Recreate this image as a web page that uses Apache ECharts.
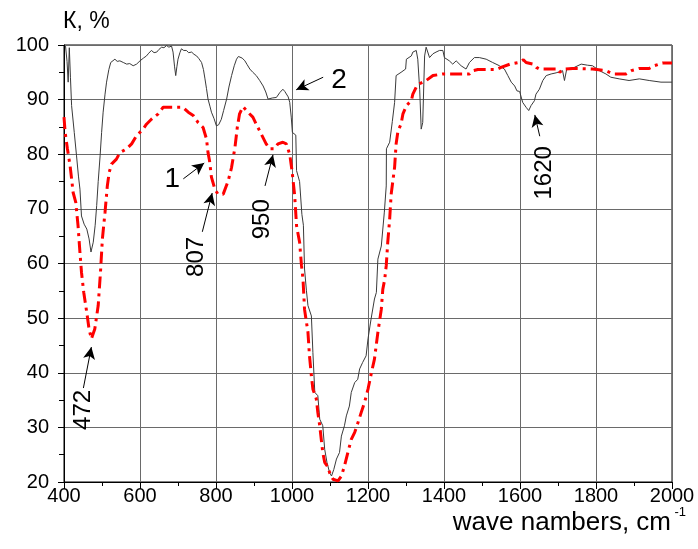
<!DOCTYPE html>
<html>
<head>
<meta charset="utf-8">
<script src="https://cdn.jsdelivr.net/npm/echarts@6/dist/echarts.min.js"></script>
<style>html,body{margin:0;padding:0;background:#fff;}#c{width:698px;height:549px;}</style>
</head>
<body>
<div id="c"></div>
<script>
// Curve 2 (thin gray)
const wn2 = [404,408,411,414,417,420,427,433,438,442,446,453,460,466,471,477,482,486,490,495,499,503,508,512,518,523,534,540,547,556,565,573,582,591,600,609,617,623,630,637,644,650,657,663,670,676,683,687,691,694,697,700,705,709,715,722,728,736,742,749,755,762,767,771,775,779,784,788,795,801,807,814,820,828,834,841,848,854,859,863,869,876,882,889,897,906,915,924,931,937,948,959,968,976,981,985,990,994,998,1001,1010,1012,1020,1026,1030,1033,1038,1042,1051,1055,1060,1068,1073,1081,1086,1092,1099,1104,1110,1117,1125,1130,1138,1143,1151,1156,1165,1173,1178,1186,1195,1200,1208,1217,1222,1226,1235,1243,1248,1248.5,1257,1264,1270,1274,1287,1299,1301,1314,1318,1327,1331,1336,1340,1344,1349,1353,1358,1362,1371,1379,1388,1397,1401,1414,1423,1432,1445,1458,1467,1480,1493,1511,1528,1546,1559,1568,1577,1586,1592,1599,1607,1616,1623,1629,1638,1642,1651,1660,1669,1682,1695,1712,1716,1717,1722,1723,1743,1761,1778,1791,1809,1826,1839,1861,1887,1914,1940,1971,2000];
const k2 = [99.8,97,93.2,99.5,94,88.9,84,79.7,76,73.6,68.7,67.2,66.3,64.5,62.1,63.9,67,70.6,75,79.7,84,87.7,91,93.2,95.5,96.8,97.4,97,97.1,96.8,96.5,96.6,96.2,96.5,97.1,97.6,98.0,98.5,99.0,98.6,98.7,99.2,99.6,99.5,99.9,99.6,99.8,98.7,96,94.4,96,97.4,98.6,99.3,99.0,99.0,98.6,98.7,98.3,98.0,97.5,96.8,95.5,93.8,92,90.1,88.8,87.7,86.5,85.2,85.4,86.4,88,90.1,92.3,94.4,96.2,97.4,97.9,98.0,97.6,97.1,96.4,95.6,95,94.4,93.5,92.5,91.4,90.1,90.3,90.4,91.3,91.9,91.5,91.6,90.5,89.5,86.8,84,83.5,77,75,69,67,59,55,52.3,50.4,43.7,36.4,35.8,31.5,30.3,26,23.6,21.7,21.1,22.3,24.2,25.4,28.4,30.3,32.1,33.9,36.4,38.2,38.8,40.7,41.9,43.1,46.2,49.8,53.5,54.7,60.8,63.2,69.4,74.2,81,82.2,86,89.5,94.4,95,95.6,97.4,98,98.7,99,97.4,91.9,84.6,85.8,98,99.6,99.5,97.7,98.4,98.7,99,99,97.7,97.1,96.5,97.1,96.2,95.6,96.8,97.7,97.7,97.4,96.8,96.2,95.6,94.4,93.2,92.5,91.6,91.5,89.5,88.6,88,88.9,89.8,91,91.9,93.5,94.4,94.7,94.9,95.3,95.2,93.5,93.5,95.6,95.9,96.5,96.3,96.2,95.3,94.7,94.1,93.8,93.5,93.8,93.5,93.2,93.2];

// Curve 1 (red dash-dot)
const wn1 = [400,403,409,416,420,424,431,437,442,446,452,460,466,472,481,490,496,501,508,514,519,525,538,547,565,578,591,608,617,630,648,661,696,713,727,740,753,766,775,779,783,788,797,805,819,832,841,850,856,862,871,884,897,906,919,932,941,954,963,976,985,994,1000,1007,1012,1020,1025,1029,1033,1042,1046,1051,1055,1064,1068,1073,1077,1081,1086,1095,1099,1108,1121,1130,1138,1147,1156,1165,1171,1182,1191,1200,1209,1217,1226,1235,1239,1244,1248,1252,1257,1261,1270,1274,1279,1287,1292,1301,1314,1318,1327,1336,1353,1371,1397,1467,1476,1489,1537,1550,1574,1596,1609,1616,1635,1643,1651,1699,1704,1717,1739,1791,1826,1844,1879,1893,1914,1940,1953,1975,2000];
const k1 = [86.8,84,81,77.9,75.5,73,71.2,66.9,62,58.4,54.7,51,48,46.2,48,52.3,58.4,64.5,69.4,74.2,76.7,78.2,79.1,80.3,81,81.9,83.4,84.6,85.5,86.4,87.4,88.6,88.6,88.6,87.7,87.1,85.8,84.9,82.8,80.3,78.8,75.8,73.6,72.7,72.7,75.1,77.6,81.3,84.9,87.4,88.7,87.7,86.8,85.5,83.7,81.9,81,81,81.9,82.2,81.9,80,77,72.5,66.9,63.9,59.6,57.1,51.6,47.4,43.1,39.4,37,35.2,32.7,30.3,27.8,25.4,23.6,22.7,21.7,20.5,20.2,21.1,22.9,25.4,27.8,29.1,30.3,32.7,34.6,37,40,42.5,47.4,51.6,55.3,57.1,59.6,63.9,68.1,72.7,77.6,81.9,84.3,85.5,87.4,88.9,89.8,91,92.3,92.9,93.5,94.4,94.7,94.7,95.3,95.5,95.5,95.9,96.5,96.8,97.3,96.8,96.5,95.9,95.6,95.6,95,95.6,95.7,95.6,95.3,94.7,94.7,95.3,95.7,95.7,96.2,96.7,96.7];

// Annotations
const arrowFrom = [[714,75.5],[764,65.8],[929,74.2],[451,37.2],[1082,94.1],[1652,83.3]];
const arrowTo   = [[769,78.4],[790,72.9],[950,79.9],[472,44.7],[1011,91.8],[1639,87.2]];
const noteText  = ['1','807','950','472','2','1620'];
const notePos   = [[685,75.5],[748,61.2],[921,68.1],[451,33.2],[1124,93.6],[1665,76.6]];
const noteRot   = [0,90,90,90,0,90];

const xTicks = [400,600,800,1000,1200,1400,1600,1800,2000];
const yTicks = [20,30,40,50,60,70,80,90,100];

const FONT = '"Liberation Sans", Arial, sans-serif';
const zip = (a, b) => a.map((v, i) => [v, b[i]]);

const chart = echarts.init(document.getElementById('c'), null, {renderer: 'canvas'});
chart.setOption({
  animation: false,
  backgroundColor: '#fff',
  grid: {left: 64, right: 26, top: 45, bottom: 67, show: true, borderColor: '#000', borderWidth: 1, backgroundColor: 'transparent'},
  xAxis: {
    type: 'value', min: xTicks[0], max: xTicks[xTicks.length - 1], interval: 200,
    axisLine: {show: true, onZero: false, lineStyle: {color: '#000', width: 1}},
    axisTick: {show: true, inside: false, length: 7, lineStyle: {color: '#000'}},
    minorTick: {show: true, splitNumber: 2, length: 4, lineStyle: {color: '#000'}},
    splitLine: {show: true, lineStyle: {color: '#6a6a6a', width: 1}},
    axisLabel: {color: '#000', fontSize: 20, fontFamily: FONT, margin: 4, showMinLabel: true, showMaxLabel: true,
      formatter: v => String(v)}
  },
  yAxis: {
    type: 'value', min: yTicks[0], max: yTicks[yTicks.length - 1], interval: 10,
    axisLine: {show: true, onZero: false, lineStyle: {color: '#000', width: 1}},
    axisTick: {show: true, inside: false, length: 6, lineStyle: {color: '#000'}},
    minorTick: {show: true, splitNumber: 2, length: 5, lineStyle: {color: '#000'}},
    splitLine: {show: true, lineStyle: {color: '#6a6a6a', width: 1}},
    axisLabel: {color: '#000', fontSize: 20, fontFamily: FONT, margin: 15, formatter: v => String(v)}
  },
  series: [
    {
      name: '2', type: 'line', data: zip(wn2, k2), symbol: 'none', smooth: false,
      lineStyle: {color: '#3a3a3a', width: 1}, z: 3
    },
    {
      name: '1', type: 'line', data: zip(wn1, k1), symbol: 'none', smooth: false,
      lineStyle: {color: '#ff0000', width: 3, type: [12, 5, 3, 5]}, z: 4,
      markLine: {
        silent: true, symbol: ['none', 'arrow'], symbolSize: [9, 12],
        lineStyle: {color: '#000', width: 1, type: 'solid'},
        label: {show: false}, animation: false,
        data: arrowFrom.map((f, i) => [{coord: f}, {coord: arrowTo[i]}])
      },
      markPoint: {
        silent: true, symbol: 'circle', symbolSize: 1,
        itemStyle: {color: 'rgba(0,0,0,0)'},
        data: noteText.map((t, i) => ({
          coord: notePos[i],
          label: {
            show: true, position: 'inside', formatter: t, rotate: noteRot[i],
            color: '#000', fontFamily: FONT, fontSize: noteRot[i] ? 24 : 28
          }
        }))
      }
    }
  ],
  graphic: [
    {type: 'text', left: 63, top: 10, style: {text: 'К, %', font: '23px ' + FONT, fill: '#000'}},
    {type: 'text', right: 27, top: 510, style: {text: 'wave nambers, cm', font: '26px ' + FONT, fill: '#000'}},
    {type: 'text', right: 12, top: 506, style: {text: '-1', font: '13px ' + FONT, fill: '#000'}}
  ]
});
</script>
</body>
</html>
